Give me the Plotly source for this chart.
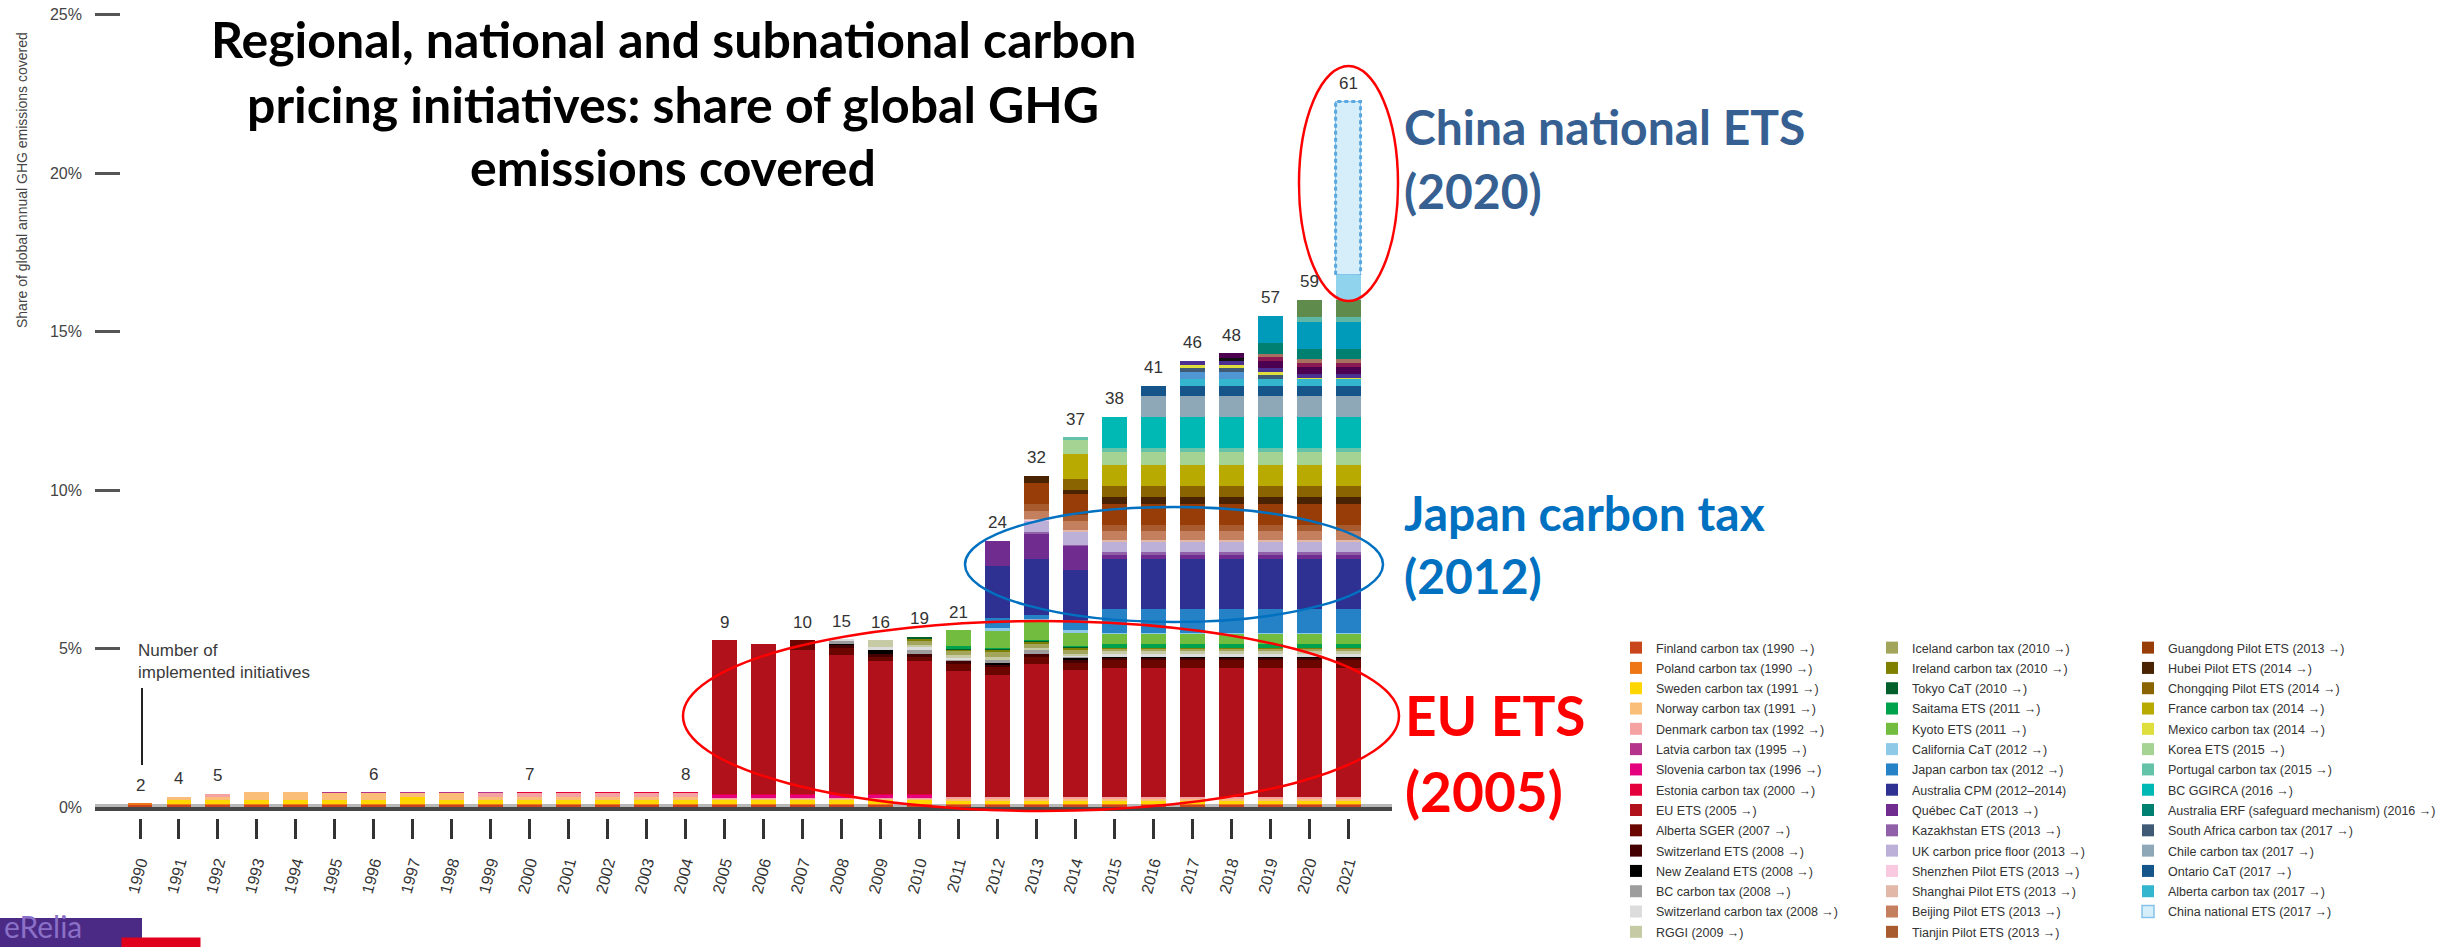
import plotly.graph_objects as go

W, H = 2455, 947

YEARS = [1990, 1991, 1992, 1993, 1994, 1995, 1996, 1997, 1998, 1999,
         2000, 2001, 2002, 2003, 2004, 2005, 2006, 2007, 2008, 2009,
         2010, 2011, 2012, 2013, 2014, 2015, 2016, 2017, 2018, 2019,
         2020, 2021]
YEAR_LABELS = [str(y) for y in YEARS]

Y_TICK_VALUES = [0, 5, 10, 15, 20, 25]
Y_TICK_LABELS = ["0%", "5%", "10%", "15%", "20%", "25%"]

# share of global GHG emissions covered (%), one value per year 1990..2021
FINLAND = [0.07, 0.07, 0.07, 0.07, 0.07, 0.07, 0.07, 0.07, 0.07, 0.07,
           0.07, 0.07, 0.07, 0.07, 0.07, 0.07, 0.07, 0.07, 0.07, 0.07,
           0.07, 0.07, 0.07, 0.07, 0.07, 0.07, 0.07, 0.07, 0.07, 0.07,
           0.07, 0.07]
POLAND = [0.03, 0.03, 0.03, 0.03, 0.03, 0.03, 0.03, 0.03, 0.03, 0.03,
          0.03, 0.03, 0.03, 0.03, 0.03, 0.03, 0.03, 0.03, 0.03, 0.03,
          0.03, 0.03, 0.03, 0.03, 0.03, 0.03, 0.03, 0.03, 0.03, 0.03,
          0.03, 0.03]
SWEDEN = [0, 0.13, 0.13, 0.13, 0.13, 0.13, 0.13, 0.23, 0.13, 0.13,
          0.13, 0.13, 0.13, 0.13, 0.13, 0.13, 0.13, 0.13, 0.13, 0.13,
          0.13, 0.12, 0.12, 0.12, 0.12, 0.12, 0.12, 0.12, 0.12, 0.12,
          0.12, 0.12]
NORWAY = [0, 0.10, 0.07, 0.23, 0.23, 0.23, 0.23, 0.12, 0.23, 0.10,
          0.10, 0.10, 0.10, 0.10, 0.10, 0.03, 0.03, 0.03, 0.03, 0.03,
          0.03, 0.02, 0.02, 0.02, 0.02, 0.02, 0.02, 0.02, 0.02, 0.02,
          0.02, 0.02]
DENMARK = [0, 0, 0.12, 0, 0, 0, 0, 0, 0, 0.12,
           0.12, 0.12, 0.12, 0.12, 0.12, 0.03, 0.03, 0.03, 0.03, 0.03,
           0.03, 0.08, 0.08, 0.08, 0.08, 0.08, 0.08, 0.08, 0.08, 0.08,
           0.08, 0.08]
LATVIA = [0, 0, 0, 0, 0, 0.005, 0.005, 0.005, 0.005, 0.005,
          0.005, 0.005, 0.005, 0.005, 0.005, 0.005, 0.005, 0.005, 0.005, 0.005,
          0.005, 0.005, 0.005, 0.005, 0.005, 0.005, 0.005, 0.005, 0.005, 0.005,
          0.005, 0.005]
SLOVENIA = [0, 0, 0, 0, 0, 0, 0, 0, 0, 0,
            0, 0, 0, 0, 0, 0.10, 0.10, 0.10, 0.10, 0.10,
            0.10, 0, 0, 0, 0, 0, 0, 0, 0, 0,
            0, 0]
ESTONIA = [0, 0, 0, 0, 0, 0, 0, 0, 0, 0,
           0.005, 0.005, 0.005, 0.005, 0.005, 0.005, 0.005, 0.005, 0.005, 0.005,
           0.005, 0.005, 0.005, 0.005, 0.005, 0.005, 0.005, 0.005, 0.005, 0.005,
           0.005, 0.005]
EU_ETS = [0, 0, 0, 0, 0, 0, 0, 0, 0, 0,
          0, 0, 0, 0, 0, 4.86, 4.73, 4.54, 4.41, 4.21,
          4.21, 3.96, 3.84, 4.18, 3.98, 4.06, 4.06, 4.06, 4.06, 4.06,
          4.06, 4.06]
ALBERTA_SGER = [0, 0, 0, 0, 0, 0, 0, 0, 0, 0,
                0, 0, 0, 0, 0, 0, 0, 0.32, 0.22, 0.12,
                0.12, 0.22, 0.24, 0.22, 0.22, 0.24, 0.24, 0.24, 0.24, 0.24,
                0.24, 0.24]
SWITZERLAND_ETS = [0, 0, 0, 0, 0, 0, 0, 0, 0, 0,
                   0, 0, 0, 0, 0, 0, 0, 0, 0.10, 0.10,
                   0.10, 0.10, 0.10, 0.10, 0.10, 0.10, 0.10, 0.10, 0.10, 0.10,
                   0.10, 0.10]
NEW_ZEALAND_ETS = [0, 0, 0, 0, 0, 0, 0, 0, 0, 0,
                   0, 0, 0, 0, 0, 0, 0, 0, 0.01, 0.13,
                   0.01, 0.01, 0.02, 0.01, 0.10, 0.01, 0.01, 0.01, 0.01, 0.01,
                   0.01, 0.01]
BC_CARBON_TAX = [0, 0, 0, 0, 0, 0, 0, 0, 0, 0,
                 0, 0, 0, 0, 0, 0, 0, 0, 0.13, 0.01,
                 0.11, 0.01, 0.12, 0.12, 0.02, 0.01, 0.01, 0.01, 0.01, 0.01,
                 0.01, 0.01]
SWITZERLAND_TAX = [0, 0, 0, 0, 0, 0, 0, 0, 0, 0,
                   0, 0, 0, 0, 0, 0, 0, 0, 0.01, 0.08,
                   0.10, 0.10, 0.02, 0.01, 0.02, 0.10, 0.10, 0.10, 0.10, 0.10,
                   0.10, 0.10]
RGGI = [0, 0, 0, 0, 0, 0, 0, 0, 0, 0,
        0, 0, 0, 0, 0, 0, 0, 0, 0, 0.22,
        0.06, 0.06, 0.06, 0.05, 0.06, 0.06, 0.06, 0.06, 0.06, 0.06,
        0.06, 0.06]
ICELAND = [0, 0, 0, 0, 0, 0, 0, 0, 0, 0,
           0, 0, 0, 0, 0, 0, 0, 0, 0, 0,
           0.16, 0.16, 0.15, 0.12, 0.13, 0.10, 0.10, 0.10, 0.10, 0.10,
           0.10, 0.10]
IRELAND = [0, 0, 0, 0, 0, 0, 0, 0, 0, 0,
           0, 0, 0, 0, 0, 0, 0, 0, 0, 0,
           0.02, 0.02, 0.09, 0.09, 0.07, 0.01, 0.01, 0.01, 0.01, 0.01,
           0.01, 0.01]
TOKYO = [0, 0, 0, 0, 0, 0, 0, 0, 0, 0,
         0, 0, 0, 0, 0, 0, 0, 0, 0, 0,
         0.08, 0.02, 0.04, 0.04, 0.03, 0.01, 0.01, 0.01, 0.01, 0.01,
         0.01, 0.01]
SAITAMA = [0, 0, 0, 0, 0, 0, 0, 0, 0, 0,
           0, 0, 0, 0, 0, 0, 0, 0, 0, 0,
           0, 0.10, 0.02, 0.01, 0.01, 0.12, 0.12, 0.12, 0.12, 0.12,
           0.12, 0.12]
KYOTO = [0, 0, 0, 0, 0, 0, 0, 0, 0, 0,
         0, 0, 0, 0, 0, 0, 0, 0, 0, 0,
         0, 0.49, 0.53, 0.63, 0.42, 0.34, 0.34, 0.34, 0.34, 0.34,
         0.34, 0.34]
CALIFORNIA = [0, 0, 0, 0, 0, 0, 0, 0, 0, 0,
              0, 0, 0, 0, 0, 0, 0, 0, 0, 0,
              0, 0, 0.10, 0.01, 0.10, 0.01, 0.01, 0.01, 0.01, 0.01,
              0.01, 0.01]
JAPAN = [0, 0, 0, 0, 0, 0, 0, 0, 0, 0,
         0, 0, 0, 0, 0, 0, 0, 0, 0, 0,
         0, 0, 0.32, 0.13, 0.32, 0.76, 0.76, 0.76, 0.76, 0.76,
         0.76, 0.76]
AUSTRALIA_CPM = [0, 0, 0, 0, 0, 0, 0, 0, 0, 0,
                 0, 0, 0, 0, 0, 0, 0, 0, 0, 0,
                 0, 0, 1.64, 1.77, 1.58, 1.56, 1.56, 1.56, 1.56, 1.56,
                 1.56, 1.56]
QUEBEC = [0, 0, 0, 0, 0, 0, 0, 0, 0, 0,
          0, 0, 0, 0, 0, 0, 0, 0, 0, 0,
          0, 0, 0.78, 0.79, 0.76, 0.13, 0.13, 0.13, 0.13, 0.13,
          0.13, 0.13]
KAZAKHSTAN = [0, 0, 0, 0, 0, 0, 0, 0, 0, 0,
              0, 0, 0, 0, 0, 0, 0, 0, 0, 0,
              0, 0, 0, 0.08, 0.03, 0.10, 0.10, 0.10, 0.10, 0.10,
              0.10, 0.10]
UK_FLOOR = [0, 0, 0, 0, 0, 0, 0, 0, 0, 0,
            0, 0, 0, 0, 0, 0, 0, 0, 0, 0,
            0, 0, 0, 0.36, 0.40, 0.32, 0.32, 0.32, 0.32, 0.32,
            0.32, 0.32]
SHENZHEN = [0, 0, 0, 0, 0, 0, 0, 0, 0, 0,
            0, 0, 0, 0, 0, 0, 0, 0, 0, 0,
            0, 0, 0, 0.02, 0.02, 0.02, 0.02, 0.02, 0.02, 0.02,
            0.02, 0.02]
SHANGHAI = [0, 0, 0, 0, 0, 0, 0, 0, 0, 0,
            0, 0, 0, 0, 0, 0, 0, 0, 0, 0,
            0, 0, 0, 0.03, 0.03, 0.03, 0.03, 0.03, 0.03, 0.03,
            0.03, 0.03]
BEIJING = [0, 0, 0, 0, 0, 0, 0, 0, 0, 0,
           0, 0, 0, 0, 0, 0, 0, 0, 0, 0,
           0, 0, 0, 0.25, 0.31, 0.28, 0.28, 0.28, 0.28, 0.28,
           0.28, 0.28]
TIANJIN = [0, 0, 0, 0, 0, 0, 0, 0, 0, 0,
           0, 0, 0, 0, 0, 0, 0, 0, 0, 0,
           0, 0, 0, 0.22, 0.19, 0.21, 0.21, 0.21, 0.21, 0.21,
           0.21, 0.21]
GUANGDONG = [0, 0, 0, 0, 0, 0, 0, 0, 0, 0,
             0, 0, 0, 0, 0, 0, 0, 0, 0, 0,
             0, 0, 0, 0.67, 0.66, 0.66, 0.66, 0.66, 0.66, 0.66,
             0.66, 0.66]
HUBEI = [0, 0, 0, 0, 0, 0, 0, 0, 0, 0,
         0, 0, 0, 0, 0, 0, 0, 0, 0, 0,
         0, 0, 0, 0.21, 0.13, 0.21, 0.21, 0.21, 0.21, 0.21,
         0.21, 0.21]
CHONGQING = [0, 0, 0, 0, 0, 0, 0, 0, 0, 0,
             0, 0, 0, 0, 0, 0, 0, 0, 0, 0,
             0, 0, 0, 0, 0.32, 0.34, 0.34, 0.34, 0.34, 0.34,
             0.34, 0.34]
FRANCE = [0, 0, 0, 0, 0, 0, 0, 0, 0, 0,
          0, 0, 0, 0, 0, 0, 0, 0, 0, 0,
          0, 0, 0, 0, 0.79, 0.66, 0.66, 0.66, 0.66, 0.66,
          0.66, 0.66]
MEXICO = [0, 0, 0, 0, 0, 0, 0, 0, 0, 0,
          0, 0, 0, 0, 0, 0, 0, 0, 0, 0,
          0, 0, 0, 0, 0, 0, 0, 0.10, 0.10, 0.10,
          0.02, 0.02]
KOREA = [0, 0, 0, 0, 0, 0, 0, 0, 0, 0,
         0, 0, 0, 0, 0, 0, 0, 0, 0, 0,
         0, 0, 0, 0, 0.44, 0.44, 0.44, 0.44, 0.44, 0.44,
         0.44, 0.44]
PORTUGAL = [0, 0, 0, 0, 0, 0, 0, 0, 0, 0,
            0, 0, 0, 0, 0, 0, 0, 0, 0, 0,
            0, 0, 0, 0, 0.10, 0.11, 0.11, 0.11, 0.11, 0.11,
            0.11, 0.11]
BC_GGIRCA = [0, 0, 0, 0, 0, 0, 0, 0, 0, 0,
             0, 0, 0, 0, 0, 0, 0, 0, 0, 0,
             0, 0, 0, 0, 0, 0.98, 0.98, 0.98, 0.98, 0.98,
             0.98, 0.98]
AUSTRALIA_ERF = [0, 0, 0, 0, 0, 0, 0, 0, 0, 0,
                 0, 0, 0, 0, 0, 0, 0, 0, 0, 0,
                 0, 0, 0, 0, 0, 0, 0, 0, 0, 0.32,
                 0.32, 0.32]
SOUTH_AFRICA = [0, 0, 0, 0, 0, 0, 0, 0, 0, 0,
                0, 0, 0, 0, 0, 0, 0, 0, 0, 0,
                0, 0, 0, 0, 0, 0, 0, 0.12, 0.12, 0.13,
                0.02, 0.02]
CHILE = [0, 0, 0, 0, 0, 0, 0, 0, 0, 0,
         0, 0, 0, 0, 0, 0, 0, 0, 0, 0,
         0, 0, 0, 0, 0, 0, 0.67, 0.67, 0.67, 0.67,
         0.67, 0.67]
ONTARIO = [0, 0, 0, 0, 0, 0, 0, 0, 0, 0,
           0, 0, 0, 0, 0, 0, 0, 0, 0, 0,
           0, 0, 0, 0, 0, 0, 0.32, 0.32, 0.32, 0.32,
           0.32, 0.32]
ALBERTA_TAX = [0, 0, 0, 0, 0, 0, 0, 0, 0, 0,
               0, 0, 0, 0, 0, 0, 0, 0, 0, 0,
               0, 0, 0, 0, 0, 0, 0, 0.21, 0.21, 0.21,
               0.21, 0.21]
CHINA_ETS = [0, 0, 0, 0, 0, 0, 0, 0, 0, 0,
             0, 0, 0, 0, 0, 0, 0, 0, 0, 0,
             0, 0, 0, 0, 0, 0, 0, 0, 0, 0,
             0, 5.47]
# blocks visible in the picture that have no entry in its legend
OTHER_A = [0, 0, 0, 0, 0, 0, 0, 0, 0, 0,
           0, 0, 0, 0, 0, 0, 0, 0, 0, 0,
           0, 0, 0, 0, 0, 0, 0, 0.23, 0.23, 0,
           0, 0]
OTHER_B = [0, 0, 0, 0, 0, 0, 0, 0, 0, 0,
           0, 0, 0, 0, 0, 0, 0, 0, 0, 0,
           0, 0, 0, 0, 0, 0, 0, 0.13, 0.13, 0.12,
           0.13, 0.13]
OTHER_C = [0, 0, 0, 0, 0, 0, 0, 0, 0, 0,
           0, 0, 0, 0, 0, 0, 0, 0, 0, 0,
           0, 0, 0, 0, 0, 0, 0, 0, 0.09, 0,
           0, 0]
OTHER_D = [0, 0, 0, 0, 0, 0, 0, 0, 0, 0,
           0, 0, 0, 0, 0, 0, 0, 0, 0, 0,
           0, 0, 0, 0, 0, 0, 0, 0, 0.14, 0.23,
           0.22, 0.22]
OTHER_E = [0, 0, 0, 0, 0, 0, 0, 0, 0, 0,
           0, 0, 0, 0, 0, 0, 0, 0, 0, 0,
           0, 0, 0, 0, 0, 0, 0, 0, 0, 0.10,
           0.10, 0.10]
OTHER_F = [0, 0, 0, 0, 0, 0, 0, 0, 0, 0,
           0, 0, 0, 0, 0, 0, 0, 0, 0, 0,
           0, 0, 0, 0, 0, 0, 0, 0, 0, 0.12,
           0.13, 0.13]
OTHER_G = [0, 0, 0, 0, 0, 0, 0, 0, 0, 0,
           0, 0, 0, 0, 0, 0, 0, 0, 0, 0,
           0, 0, 0, 0, 0, 0, 0, 0, 0, 0.88,
           0.87, 0.87]
OTHER_H = [0, 0, 0, 0, 0, 0, 0, 0, 0, 0,
           0, 0, 0, 0, 0, 0, 0, 0, 0, 0,
           0, 0, 0, 0, 0, 0, 0, 0, 0, 0,
           0.13, 0.13]
OTHER_I = [0, 0, 0, 0, 0, 0, 0, 0, 0, 0,
           0, 0, 0, 0, 0, 0, 0, 0, 0, 0,
           0, 0, 0, 0, 0, 0, 0, 0, 0, 0,
           0.56, 0.56]
OTHER_J = [0, 0, 0, 0, 0, 0, 0, 0, 0, 0,
           0, 0, 0, 0, 0, 0, 0, 0, 0, 0,
           0, 0, 0, 0, 0, 0, 0, 0, 0, 0,
           0, 0.79]

# number of implemented initiatives (labels above the bars)
COUNT_YEARS = [1990, 1991, 1992, 1996, 2000, 2004, 2005, 2007, 2008, 2009, 2010,
               2011, 2012, 2013, 2014, 2015, 2016, 2017, 2018, 2019, 2020, 2021]
COUNT_VALUES = [2, 4, 5, 6, 7, 8, 9, 10, 15, 16, 19,
                21, 24, 32, 37, 38, 41, 46, 48, 57, 59, 61]

# (legend text, values, colour, legend column, row in column) in stacking order
STACK = [
    ("Finland carbon tax (1990 →)", FINLAND, "#c9461d", "legend", 1),
    ("Poland carbon tax (1990 →)", POLAND, "#ee7614", "legend", 2),
    ("Sweden carbon tax (1991 →)", SWEDEN, "#ffd600", "legend", 3),
    ("Norway carbon tax (1991 →)", NORWAY, "#fbbe78", "legend", 4),
    ("Denmark carbon tax (1992 →)", DENMARK, "#f4a2a2", "legend", 5),
    ("Latvia carbon tax (1995 →)", LATVIA, "#b5338a", "legend", 6),
    ("Slovenia carbon tax (1996 →)", SLOVENIA, "#e5007d", "legend", 7),
    ("Estonia carbon tax (2000 →)", ESTONIA, "#e4003b", "legend", 8),
    ("EU ETS (2005 →)", EU_ETS, "#b0111a", "legend", 9),
    ("Alberta SGER (2007 →)", ALBERTA_SGER, "#6b0500", "legend", 10),
    ("Switzerland ETS (2008 →)", SWITZERLAND_ETS, "#440000", "legend", 11),
    ("New Zealand ETS (2008 →)", NEW_ZEALAND_ETS, "#000000", "legend", 12),
    ("BC carbon tax (2008 →)", BC_CARBON_TAX, "#9d9d9d", "legend", 13),
    ("Switzerland carbon tax (2008 →)", SWITZERLAND_TAX, "#dcdcdc", "legend", 14),
    ("RGGI (2009 →)", RGGI, "#c6cba6", "legend", 15),
    ("Iceland carbon tax (2010 →)", ICELAND, "#a2a55a", "legend2", 1),
    ("Ireland carbon tax (2010 →)", IRELAND, "#7f7f00", "legend2", 2),
    ("Tokyo CaT (2010 →)", TOKYO, "#005f2b", "legend2", 3),
    ("Saitama ETS (2011 →)", SAITAMA, "#00a24b", "legend2", 4),
    ("Kyoto ETS (2011 →)", KYOTO, "#72bc40", "legend2", 5),
    ("California CaT (2012 →)", CALIFORNIA, "#8ec9e8", "legend2", 6),
    ("Japan carbon tax (2012 →)", JAPAN, "#2582c6", "legend2", 7),
    ("Australia CPM (2012–2014)", AUSTRALIA_CPM, "#2e3192", "legend2", 8),
    ("Québec CaT (2013 →)", QUEBEC, "#702c8e", "legend2", 9),
    ("Kazakhstan ETS (2013 →)", KAZAKHSTAN, "#9061a8", "legend2", 10),
    ("UK carbon price floor (2013 →)", UK_FLOOR, "#bdb0d8", "legend2", 11),
    ("Shenzhen Pilot ETS (2013 →)", SHENZHEN, "#f9c9e0", "legend2", 12),
    ("Shanghai Pilot ETS (2013 →)", SHANGHAI, "#e2b9a8", "legend2", 13),
    ("Beijing Pilot ETS (2013 →)", BEIJING, "#c47f5f", "legend2", 14),
    ("Tianjin Pilot ETS (2013 →)", TIANJIN, "#a95b30", "legend2", 15),
    ("Guangdong Pilot ETS (2013 →)", GUANGDONG, "#983c08", "legend3", 1),
    ("Hubei Pilot ETS (2014 →)", HUBEI, "#4a2402", "legend3", 2),
    ("Chongqing Pilot ETS (2014 →)", CHONGQING, "#8a6400", "legend3", 3),
    ("France carbon tax (2014 →)", FRANCE, "#b8aa00", "legend3", 4),
    ("Korea ETS (2015 →)", KOREA, "#a4d394", "legend3", 6),
    ("Portugal carbon tax (2015 →)", PORTUGAL, "#64c2a8", "legend3", 7),
    ("BC GGIRCA (2016 →)", BC_GGIRCA, "#00b8b4", "legend3", 8),
    ("Chile carbon tax (2017 →)", CHILE, "#8ea8b8", "legend3", 11),
    ("Ontario CaT (2017 →)", ONTARIO, "#15558a", "legend3", 12),
    ("Alberta carbon tax (2017 →)", ALBERTA_TAX, "#35b6cf", "legend3", 13),
    ("Other initiative A", OTHER_A, "#5096d2", None, 0),
    ("South Africa carbon tax (2017 →)", SOUTH_AFRICA, "#3f5a74", "legend3", 10),
    ("Mexico carbon tax (2014 →)", MEXICO, "#dede3c", "legend3", 5),
    ("Other initiative B", OTHER_B, "#4b2f91", None, 0),
    ("Other initiative C", OTHER_C, "#111111", None, 0),
    ("Other initiative D", OTHER_D, "#4b0050", None, 0),
    ("Other initiative E", OTHER_E, "#8c1a52", None, 0),
    ("Other initiative F", OTHER_F, "#a8705e", None, 0),
    ("Australia ERF (safeguard mechanism) (2016 →)", AUSTRALIA_ERF, "#008070", "legend3", 9),
    ("Other initiative G", OTHER_G, "#009abb", None, 0),
    ("Other initiative H", OTHER_H, "#5fb8a6", None, 0),
    ("Other initiative I", OTHER_I, "#5f8b4c", None, 0),
    ("Other initiative J", OTHER_J, "#8fd4ec", None, 0),
    ("China national ETS (2017 →)", CHINA_ETS, "#d6eefa", "legend3", 14),
]

for _name, _vals, *_ in STACK:
    assert len(_vals) == len(YEARS), _name

BAR_WIDTH = 0.64


def px_x(px):
    return px / W


def px_y(py):
    return 1 - py / H


fig = go.Figure()

for name, vals, color, leg, rank in STACK:
    xs = [y for y, v in zip(YEARS, vals) if v > 0]
    ys = [v for v in vals if v > 0]
    is_china = vals is CHINA_ETS
    fig.add_trace(go.Bar(
        x=xs, y=ys, name=name, width=BAR_WIDTH,
        marker=dict(color=color,
                    line=dict(color="#86c3ec" if is_china else color,
                              width=1.5 if is_china else 0)),
        legend=leg if leg else "legend",
        legendgroup=name, legendrank=rank if leg else 9999,
        showlegend=bool(leg), hoverinfo="skip",
    ))

# totals per year (for the count labels and the China outline)
totals = [sum(s[1][i] for s in STACK) for i in range(len(YEARS))]
china_top = totals[-1]
china_base = china_top - CHINA_ETS[-1]
half = BAR_WIDTH / 2
fig.add_trace(go.Scatter(
    x=[YEARS[-1] - half, YEARS[-1] - half, YEARS[-1] + half, YEARS[-1] + half],
    y=[china_base, china_top, china_top, china_base],
    mode="lines", line=dict(color="#5aa8e0", width=3, dash="4px,3px"),
    showlegend=False, hoverinfo="skip",
))

axis_font = "Liberation Sans, Arial, sans-serif"
big_font = "Lato, Open Sans, sans-serif"

fig.update_layout(
    width=W, height=H,
    margin=dict(l=0, r=0, t=0, b=0),
    paper_bgcolor="white", plot_bgcolor="white",
    barmode="stack", hovermode=False,
    xaxis=dict(
        domain=[px_x(95), px_x(1392)],
        range=[1988.845, 2022.127],
        tickmode="array", tickvals=YEARS, ticktext=YEAR_LABELS,
        tickangle=-75, ticks="outside", ticklen=20, tickwidth=2.5, tickcolor="#333",
        tickfont=dict(family=axis_font, size=16, color="#333"),
        ticklabelstandoff=8,
        showgrid=False, zeroline=False, showline=False,
        anchor="free", position=px_y(818), automargin=False,
    ),
    yaxis=dict(
        domain=[px_y(807), 1],
        range=[0, 25.47],
        tickmode="array", tickvals=Y_TICK_VALUES, ticktext=Y_TICK_LABELS,
        ticks="inside", ticklen=25, tickwidth=3, tickcolor="#555",
        tickfont=dict(family=axis_font, size=16, color="#444"),
        ticklabelstandoff=12,
        showgrid=False, zeroline=False, showline=False, automargin=False,
    ),
)

legend_common = dict(
    xanchor="left", yanchor="top", orientation="v",
    bgcolor="rgba(0,0,0,0)", borderwidth=0,
    font=dict(family=axis_font, size=12.5, color="#333"),
    traceorder="grouped", tracegroupgap=1.05,
    y=px_y(633),
)
fig.update_layout(
    legend=dict(x=px_x(1616), **legend_common),
    legend2=dict(x=px_x(1872), **legend_common),
    legend3=dict(x=px_x(2128), **legend_common),
)

shapes = []


def rect(x0, y0, x1, y1, **kw):
    d = dict(xref="paper", yref="paper", x0=px_x(x0), x1=px_x(x1),
             y0=px_y(y1), y1=px_y(y0))
    d.update(kw)
    return d


shapes.append(rect(95, 804, 1392, 807, type="rect", fillcolor="#b8b8b8",
                   line=dict(width=0), layer="below"))
shapes.append(rect(95, 807, 1392, 811, type="rect", fillcolor="#474747",
                   line=dict(width=0), layer="above"))
shapes.append(rect(1299, 66, 1398, 301, type="circle", line=dict(color="#ff0000", width=2.5)))
shapes.append(rect(965, 507, 1383, 622, type="circle", line=dict(color="#0070c0", width=2.5)))
shapes.append(rect(683, 621, 1399, 811, type="circle", line=dict(color="#ff0000", width=2.5)))
shapes.append(rect(141, 688, 143, 765, type="rect", fillcolor="#222",
                   line=dict(width=0)))
shapes.append(rect(0, 918, 142, 960, type="rect", fillcolor="#4b2a85",
                   line=dict(width=0)))
fig.update_layout(shapes=shapes)

ann = []


def text_px(x, y, text, size, color, family=big_font, xanchor="left", **kw):
    d = dict(xref="paper", yref="paper", x=px_x(x), y=px_y(y), text=text,
             showarrow=False, xanchor=xanchor, yanchor="middle",
             font=dict(family=family, size=size, color=color))
    d.update(kw)
    return d


ann.append(text_px(673, 39, "<b>Regional, national and subnational carbon</b>", 50, "#000", xanchor="center"))
ann.append(text_px(673, 103.5, "<b>pricing initiatives: share of global GHG</b>", 50, "#000", xanchor="center"))
ann.append(text_px(673, 167, "<b>emissions covered</b>", 50, "#000", xanchor="center"))

ann.append(text_px(1402, 126.5, "<b>China national ETS</b>", 48, "#376092"))
ann.append(text_px(1402, 190.5, "<b>(2020)</b>", 48, "#376092"))
ann.append(text_px(1402, 512.5, "<b>Japan carbon tax</b>", 48, "#0070c0"))
ann.append(text_px(1402, 575, "<b>(2012)</b>", 48, "#0070c0"))
ann.append(text_px(1403, 715, "<b>EU ETS</b>", 55, "#ff0000"))
ann.append(text_px(1403, 791, "<b>(2005)</b>", 55, "#ff0000"))

ann.append(text_px(136, 661.5, "Number of<br>implemented initiatives", 17, "#3a3a3a",
                   family=axis_font, align="left"))
ann.append(dict(xref="paper", yref="paper", x=px_x(22), y=px_y(330),
                text="Share of global annual GHG emissions covered", textangle=-90,
                showarrow=False, xanchor="center", yanchor="bottom",
                font=dict(family=axis_font, size=14, color="#444")))

for yr, cnt in zip(COUNT_YEARS, COUNT_VALUES):
    ann.append(dict(x=yr, y=totals[YEARS.index(yr)], xref="x", yref="y",
                    text=str(cnt), showarrow=False, yanchor="middle", yshift=18,
                    font=dict(family=axis_font, size=17, color="#333")))

ann.append(dict(xref="paper", yref="paper", x=px_x(2), y=px_y(946), xanchor="left",
                yanchor="bottom", text="eRelia", showarrow=False,
                font=dict(family=big_font, size=30, color="#8a70c6")))
ann.append(dict(xref="paper", yref="paper", x=px_x(121), y=px_y(937), xanchor="left",
                yanchor="top", text=" ", showarrow=False, width=78, height=20,
                bgcolor="#e0001b", borderpad=0))
fig.update_layout(annotations=ann)

fig.write_html("out.html")
